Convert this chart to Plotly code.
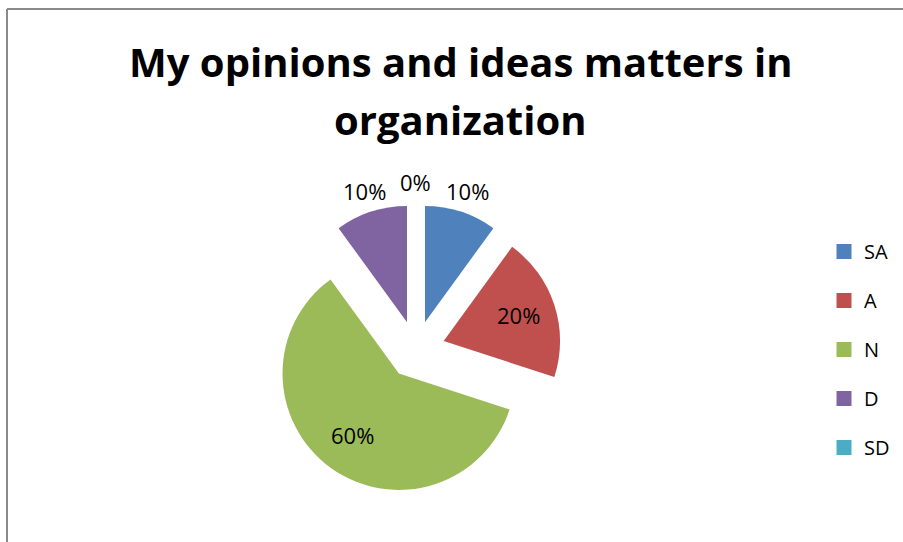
import math
import plotly.graph_objects as go

# Survey responses: "My opinions and ideas matters in organization"
categories = ["SA", "A", "N", "D", "SD"]
shares = [10, 20, 60, 10, 0]
colors = ["#4F81BD", "#C0504D", "#9BBB59", "#8064A2", "#4BACC6"]
label_inside = [False, True, True, False, False]

W, H = 903, 542
font_family = "Open Sans, Lato, DejaVu Sans, sans-serif"

# Pie geometry in pixels (center, radius, explode fraction)
CX, CY, R, PULL = 416, 350, 115, 0.25
box = 2 * R * (1 + PULL) * 1.012

fig = go.Figure()

fig.add_trace(go.Pie(
    labels=categories,
    values=shares,
    marker=dict(colors=colors, line=dict(width=0)),
    pull=[PULL] * len(categories),
    sort=False,
    direction="clockwise",
    rotation=0,
    textinfo="none",
    showlegend=False,
    hoverinfo="label+percent",
    domain=dict(x=[(CX - box / 2) / W, (CX + box / 2) / W],
                y=[1 - (CY + box / 2) / H, 1 - (CY - box / 2) / H]),
))

# Percentage labels placed along each slice's mid-angle
annotations = []
total = sum(shares)
start = 0.0
for name, v, inside in zip(categories, shares, label_inside):
    span = 360.0 * v / total
    mid = math.radians(start + span / 2)
    start += span
    ox = CX + PULL * R * math.sin(mid)
    oy = CY - 2 - PULL * R * math.cos(mid)
    dist = (0.69 if inside else 1.19) * R
    lx = ox + dist * math.sin(mid)
    ly = oy - dist * math.cos(mid)
    annotations.append(dict(
        text=f"{v}%", x=lx / W, y=1 - ly / H, xref="paper", yref="paper",
        xanchor="center", yanchor="middle", showarrow=False,
        font=dict(family=font_family, size=22, color="#000000"),
    ))

# Two-line bold title
annotations += [
    dict(text="<b>My opinions and ideas matters in</b>", x=460 / W, y=1 - 61 / H,
         xref="paper", yref="paper", xanchor="center", yanchor="middle",
         showarrow=False, font=dict(family=font_family, size=40, color="#000000")),
    dict(text="<b>organization</b>", x=460 / W, y=1 - 119 / H,
         xref="paper", yref="paper", xanchor="center", yanchor="middle",
         showarrow=False, font=dict(family=font_family, size=40, color="#000000")),
]

# Legend entries, one per category
for name, col in zip(categories, colors):
    fig.add_trace(go.Scatter(
        x=[None], y=[None], mode="markers", name=name,
        legendgroup=name,
        marker=dict(symbol="square", size=15, color=col),
    ))

fig.update_layout(
    width=W, height=H,
    margin=dict(l=0, r=0, t=0, b=0),
    paper_bgcolor="white",
    plot_bgcolor="white",
    xaxis=dict(visible=False),
    yaxis=dict(visible=False),
    annotations=annotations,
    legend=dict(
        x=824 / W, xanchor="left",
        y=1 - 232 / H, yanchor="top",
        font=dict(family=font_family, size=20, color="#000000"),
        tracegroupgap=20,
        itemsizing="trace",
        bgcolor="rgba(0,0,0,0)",
    ),
    shapes=[
        dict(type="line", xref="paper", yref="paper",
             x0=7 / W, x1=7 / W, y0=0, y1=1 - 9 / H,
             line=dict(color="#8A8A8A", width=2)),
        dict(type="line", xref="paper", yref="paper",
             x0=7 / W, x1=1, y0=1 - 9 / H, y1=1 - 9 / H,
             line=dict(color="#8A8A8A", width=2)),
    ],
)

fig.write_html("out.html")
